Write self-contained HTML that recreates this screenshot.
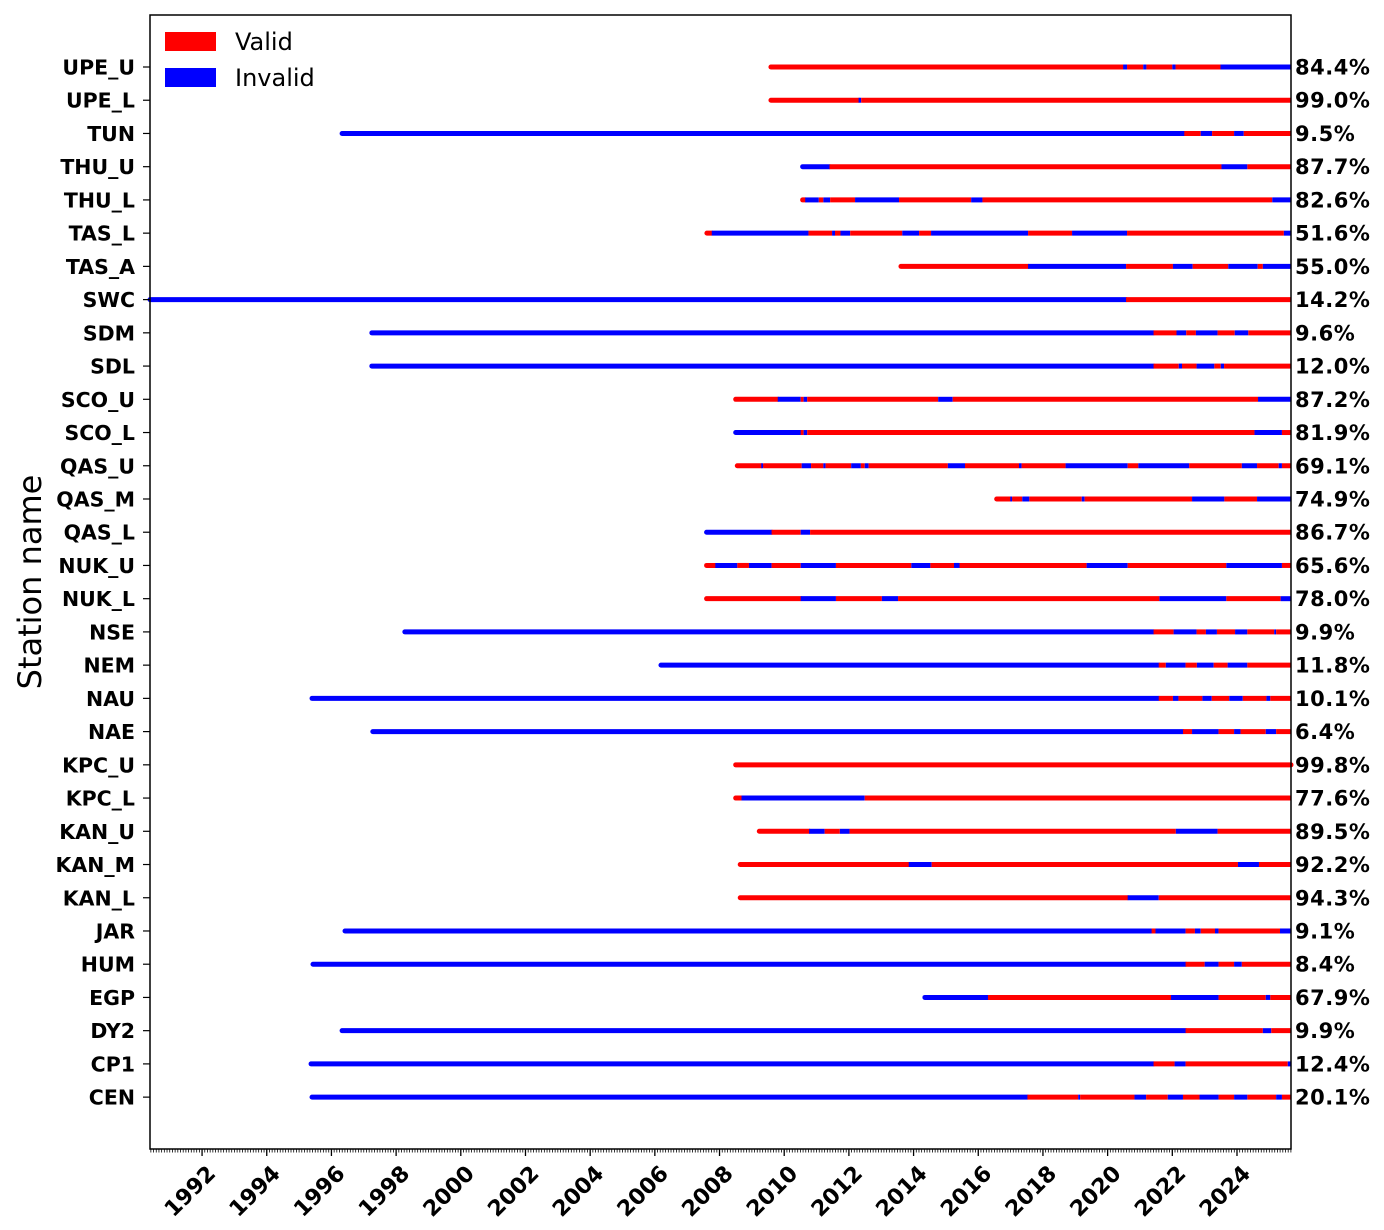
<!DOCTYPE html>
<html><head><meta charset="utf-8">
<style>
html,body{margin:0;padding:0;background:#fff;}
svg{display:block;font-family:"DejaVu Sans","Liberation Sans",sans-serif;}
</style></head>
<body>
<svg id="chart" width="1384" height="1230" viewBox="0 0 1384 1230" xmlns="http://www.w3.org/2000/svg">
<g id="marks"></g>
<g id="axes"></g>
<rect x="150" y="15" width="1141" height="1134" fill="none" stroke="#000" stroke-width="1.5"/>
<g>
  <rect x="165" y="32" width="51" height="19" fill="#ff0000"/>
  <text x="235" y="50" font-size="24">Valid</text>
  <rect x="165" y="68" width="51" height="19" fill="#0000ff"/>
  <text x="235" y="86" font-size="24">Invalid</text>
</g>
<text transform="translate(41,582) rotate(-90)" text-anchor="middle" font-size="32">Station name</text>
</svg>
<script>
const stations = ["UPE_U","UPE_L","TUN","THU_U","THU_L","TAS_L","TAS_A","SWC","SDM","SDL","SCO_U","SCO_L","QAS_U","QAS_M","QAS_L","NUK_U","NUK_L","NSE","NEM","NAU","NAE","KPC_U","KPC_L","KAN_U","KAN_M","KAN_L","JAR","HUM","EGP","DY2","CP1","CEN"];
const percents = ["84.4%","99.0%","9.5%","87.7%","82.6%","51.6%","55.0%","14.2%","9.6%","12.0%","87.2%","81.9%","69.1%","74.9%","86.7%","65.6%","78.0%","9.9%","11.8%","10.1%","6.4%","99.8%","77.6%","89.5%","92.2%","94.3%","9.1%","8.4%","67.9%","9.9%","12.4%","20.1%"];
const startYears = [2009.59,2009.59,1996.33,2010.57,2010.57,2007.61,2013.61,1990.39,1997.25,1997.25,2008.50,2008.50,2008.55,2016.57,2007.60,2007.60,2007.60,1998.27,2006.19,1995.40,1997.28,2008.50,2008.50,2009.23,2008.64,2008.64,1996.42,1995.43,2014.35,1996.33,1995.37,1995.40];
// segments: [endYear, valid(1)/invalid(0)], consecutive from start year
const segments = [
 [[2020.48,1],[2020.6,0],[2021.1,1],[2021.2,0],[2022.0,1],[2022.1,0],[2023.49,1],[2025.67,0]],
 [[2012.3,1],[2012.38,0],[2025.67,1]],
 [[2022.37,0],[2022.88,1],[2023.23,0],[2023.91,1],[2024.21,0],[2025.67,1]],
 [[2011.40,0],[2023.52,1],[2024.32,0],[2025.67,1]],
 [[2010.65,1],[2011.07,0],[2011.21,1],[2011.42,0],[2012.19,1],[2013.55,0],[2015.78,1],[2016.13,0],[2025.09,1],[2025.67,0]],
 [[2007.76,1],[2010.75,0],[2011.48,1],[2011.57,0],[2011.74,1],[2012.04,0],[2013.65,1],[2014.17,0],[2014.54,1],[2017.54,0],[2018.90,1],[2020.60,0],[2025.45,1],[2025.67,0]],
 [[2017.54,1],[2020.57,0],[2022.02,1],[2022.63,0],[2023.73,1],[2024.64,0],[2024.80,1],[2025.67,0]],
 [[2020.57,0],[2025.67,1]],
 [[2021.42,0],[2022.13,1],[2022.43,0],[2022.73,1],[2023.40,0],[2023.93,1],[2024.35,0],[2025.67,1]],
 [[2021.42,0],[2022.2,1],[2022.3,0],[2022.75,1],[2023.3,0],[2023.5,1],[2023.6,0],[2025.67,1]],
 [[2009.80,1],[2010.51,0],[2010.60,1],[2010.71,0],[2014.76,1],[2015.21,0],[2024.65,1],[2025.67,0]],
 [[2010.51,0],[2010.60,1],[2010.71,0],[2024.54,1],[2025.39,0],[2025.67,1]],
 [[2009.29,1],[2009.35,0],[2010.54,1],[2010.83,0],[2011.21,1],[2011.28,0],[2012.07,1],[2012.37,0],[2012.49,1],[2012.61,0],[2015.06,1],[2015.59,0],[2017.26,1],[2017.34,0],[2018.70,1],[2020.62,0],[2020.95,1],[2022.52,0],[2024.15,1],[2024.62,0],[2025.29,1],[2025.39,0],[2025.67,1]],
 [[2016.99,1],[2017.05,0],[2017.36,1],[2017.58,0],[2019.20,1],[2019.29,0],[2022.61,1],[2023.61,0],[2024.62,1],[2025.67,0]],
 [[2009.61,0],[2010.51,1],[2010.80,0],[2025.67,1]],
 [[2007.87,1],[2008.55,0],[2008.91,1],[2009.61,0],[2010.51,1],[2011.60,0],[2013.93,1],[2014.52,0],[2015.25,1],[2015.42,0],[2019.35,1],[2020.62,0],[2023.67,1],[2025.39,0],[2025.67,1]],
 [[2010.51,1],[2011.60,0],[2013.02,1],[2013.52,0],[2021.60,1],[2023.67,0],[2025.35,1],[2025.67,0]],
 [[2021.42,0],[2022.04,1],[2022.75,0],[2023.04,1],[2023.38,0],[2023.94,1],[2024.32,0],[2025.15,1],[2025.21,0],[2025.67,1]],
 [[2021.58,0],[2021.80,1],[2022.41,0],[2022.76,1],[2023.28,0],[2023.71,1],[2024.32,0],[2025.67,1]],
 [[2021.58,0],[2022.02,1],[2022.19,0],[2022.93,1],[2023.22,0],[2023.76,1],[2024.18,0],[2024.91,1],[2025.03,0],[2025.67,1]],
 [[2022.33,0],[2022.61,1],[2023.43,0],[2023.91,1],[2024.11,0],[2024.89,1],[2025.21,0],[2025.67,1]],
 [[2025.67,1]],
 [[2008.68,1],[2012.49,0],[2025.67,1]],
 [[2010.77,1],[2011.25,0],[2011.72,1],[2012.02,0],[2022.11,1],[2023.40,0],[2025.67,1]],
 [[2013.85,1],[2014.56,0],[2024.03,1],[2024.68,0],[2025.67,1]],
 [[2020.62,1],[2021.58,0],[2025.67,1]],
 [[2021.36,0],[2021.48,1],[2022.41,0],[2022.70,1],[2022.88,0],[2023.32,1],[2023.43,0],[2025.33,1],[2025.67,0]],
 [[2022.41,0],[2023.00,1],[2023.43,0],[2023.91,1],[2024.15,0],[2025.67,1]],
 [[2016.30,0],[2021.96,1],[2023.43,0],[2024.89,1],[2025.03,0],[2025.67,1]],
 [[2022.41,0],[2024.80,1],[2025.06,0],[2025.67,1]],
 [[2021.42,0],[2022.07,1],[2022.41,0],[2025.57,1],[2025.67,0]],
 [[2017.52,0],[2019.09,1],[2019.15,0],[2020.83,1],[2021.19,0],[2021.86,1],[2022.33,0],[2022.84,1],[2023.43,0],[2023.91,1],[2024.32,0],[2025.21,1],[2025.39,0],[2025.67,1]]
];
const xTickYears = [1992,1994,1996,1998,2000,2002,2004,2006,2008,2010,2012,2014,2016,2018,2020,2022,2024];
const xDomain = [1990.39, 2025.67];

const NS='http://www.w3.org/2000/svg';
const X0=150, X1=1291, YTOP=67, YSTEP=33.23;
function xScale(yr){return X0+(yr-xDomain[0])/(xDomain[1]-xDomain[0])*(X1-X0);}
function yScale(i){return YTOP+i*YSTEP;}
function mk(tag,attrs){const e=document.createElementNS(NS,tag);for(const k in attrs)e.setAttribute(k,attrs[k]);return e;}
const marks=document.getElementById('marks'), axes=document.getElementById('axes');

stations.forEach((name,i)=>{
  const y=yScale(i);
  const g=mk('g',{});
  
  
  let s=startYears[i];
  segments[i].forEach((seg,j)=>{
    const ln=mk('line',{x1:xScale(s),x2:xScale(seg[0]),y1:y,y2:y,stroke:seg[1]?'#ff0000':'#0000ff','stroke-width':5,'stroke-linecap':(j===0?'round':'butt')});
    
    
    g.appendChild(ln);
    s=seg[0];
  });
  marks.appendChild(g);
  const lbl=mk('text',{x:135,y:y+7.5,'text-anchor':'end','font-size':20.5,'font-weight':'bold'});
  lbl.textContent=name;
  
  
  axes.appendChild(lbl);
  const t=mk('line',{x1:143,x2:150,y1:y,y2:y,stroke:'#000','stroke-width':1.2});
  
  
  axes.appendChild(t);
  const p=mk('text',{x:1295,y:y+7.5,'font-size':21,'font-weight':'bold','letter-spacing':'0.5'});
  p.textContent=percents[i];
  
  
  axes.appendChild(p);
});
for(let m=Math.ceil(xDomain[0]*12);m<=Math.floor(xDomain[1]*12);m++){
  const x=xScale(m/12);
  const t=mk('line',{x1:x,x2:x,y1:1149,y2:1152.5,stroke:'#000','stroke-width':0.8});
  
  
  axes.appendChild(t);
}
xTickYears.forEach(yr=>{
  const x=xScale(yr);
  const t=mk('line',{x1:x,x2:x,y1:1149,y2:1156,stroke:'#000','stroke-width':1.3});
  
  
  axes.appendChild(t);
  const l=mk('text',{transform:`translate(${x+4},${1164}) rotate(-45)`,'text-anchor':'end','font-size':22,'font-weight':'bold','dominant-baseline':'hanging'});
  l.textContent=yr;
  
  
  axes.appendChild(l);
});
</script>
</body></html>
